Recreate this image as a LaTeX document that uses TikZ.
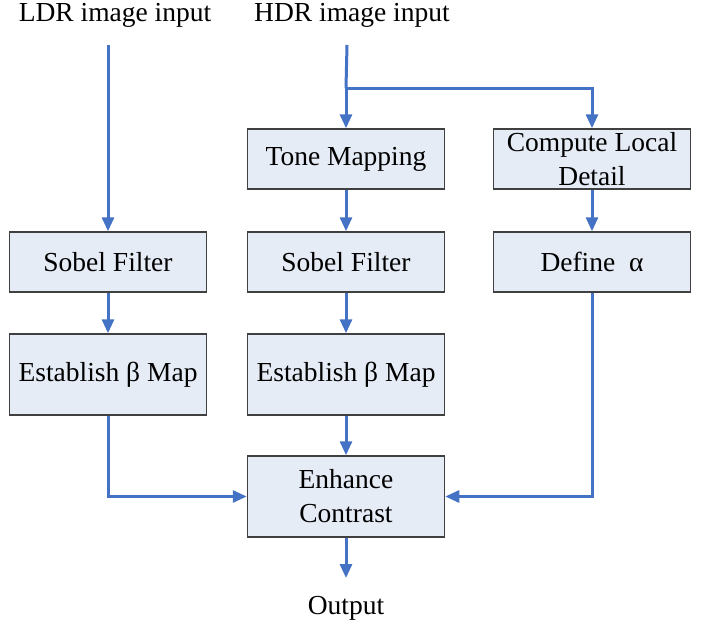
\documentclass[tikz,border=0pt]{standalone}
\usepackage{fontspec}
\setmainfont{Liberation Serif}
\usetikzlibrary{arrows.meta}
\definecolor{boxfill}{RGB}{230,236,246}
\definecolor{flowblue}{RGB}{68,114,196}

\begin{document}
\begin{tikzpicture}[x=0.5pt,y=-0.5pt]
\tikzstyle{every node}=[font=\fontsize{13.75}{17}\selectfont]
\tikzstyle{box}=[draw=black!75,fill=boxfill,line width=0.75pt,minimum width=98.5pt,minimum height=30pt,align=center,inner sep=1pt]
\tikzstyle{tallbox}=[box,minimum height=40.5pt]
\tikzstyle{flow}=[draw=flowblue,line width=1.5pt,-{Triangle[length=7pt,width=6pt]}]
\useasboundingbox (0,0) rectangle (714,632);
\node (ldr) at (115,15) {LDR image input};
\node (hdr) at (352,15) {HDR image input};
\coordinate (ldrtop) at (108,45);
\coordinate (hdrtop) at (347,45);
\coordinate (split) at (346,88);
\node[box] (sobelL) at (108,262) {Sobel Filter};
\node[tallbox] (betaL) at (108,374.5) {Establish β Map};
\node[box] (tone) at (346,159) {Tone Mapping};
\node[box] (sobelH) at (346,262) {Sobel Filter};
\node[tallbox] (betaH) at (346,374.5) {Establish β Map};
\node[tallbox] (enhance) at (346,496.5) {Enhance\\Contrast};
\node[box] (detail) at (592,159) {Compute Local\\Detail};
\node[box] (alpha) at (592,262) {Define\ \ α};
\coordinate (outtip) at (346,578);
\node (out) at (346,608) {Output};
% left column
\draw[flow] (ldrtop) -- (sobelL);
\draw[flow] (sobelL) -- (betaL);
\draw[flow] (betaL) |- (enhance);
% middle column
\draw[draw=flowblue,line width=1.5pt] (hdrtop) -- (split);
\draw[flow] (split) -- (tone);
\draw[flow] (tone) -- (sobelH);
\draw[flow] (sobelH) -- (betaH);
\draw[flow] (betaH) -- (enhance);
\draw[flow] (enhance) -- (outtip);
% right column
\draw[flow] (split) -| (detail);
\draw[flow] (detail) -- (alpha);
\draw[flow] (alpha) |- (enhance);
\end{tikzpicture}
\end{document}
